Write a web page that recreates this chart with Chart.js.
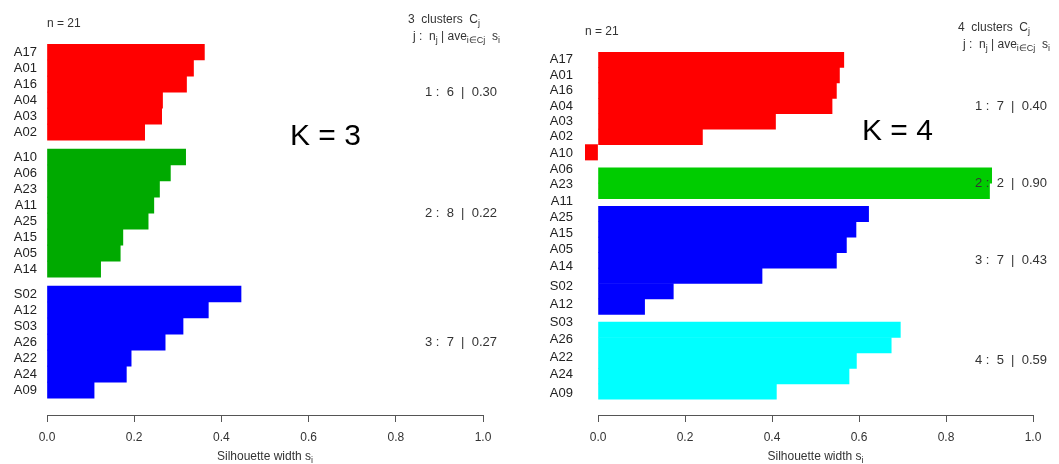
<!DOCTYPE html>
<html>
<head>
<meta charset="utf-8">
<script src="https://cdn.jsdelivr.net/npm/chart.js@4/dist/chart.umd.min.js"></script>
<style>
    html, body { margin: 0; padding: 0; background: #fff; }
    #wrap { position: relative; width: 1059px; height: 464px; }
    .panel { position: absolute; top: 0; height: 464px; }
    #left { left: 0; width: 530px; }
    #right { left: 530px; width: 529px; }
</style>
</head>
<body>
<div id="wrap">
    <div class="panel" id="left"><canvas id="cLeft"></canvas></div>
    <div class="panel" id="right"><canvas id="cRight"></canvas></div>
</div>
<script>
// ---- données ----
const obsNames = ["A17", "A01", "A16", "A04", "A03", "A02", "A10", "A06", "A23", "A11", "A25",
                  "A15", "A05", "A14", "S02", "A12", "S03", "A26", "A22", "A24", "A09"];

// K = 3
const k3Widths = [0.361, 0.336, 0.320, 0.265, 0.263, 0.224,
                  0.318, 0.283, 0.258, 0.245, 0.232, 0.174, 0.168, 0.123,
                  0.445, 0.370, 0.312, 0.271, 0.193, 0.182, 0.108];
const k3Sizes = [6, 8, 7];
const k3Averages = ["0.30", "0.22", "0.27"];
const k3Colors = ["#ff0000", "#00aa00", "#0000ff"];

// K = 4
const k4Widths = [0.565, 0.555, 0.548, 0.538, 0.408, 0.240, -0.030,
                  0.905, 0.900,
                  0.622, 0.593, 0.571, 0.548, 0.377, 0.173, 0.107,
                  0.695, 0.674, 0.594, 0.577, 0.410];
const k4Sizes = [7, 2, 7, 5];
const k4Averages = ["0.40", "0.90", "0.43", "0.59"];
const k4Colors = ["#ff0000", "#00cc00", "#0000ff", "#00ffff"];
// sur le panneau K = 4 les noms ne suivent pas les barres (positions relevées)
const k4NamePos = [0, 1, 2, 3, 4, 5, 6.05, 7.1, 8.1, 9.15, 10.2, 11.25, 12.3, 13.4,
                   14.7, 15.85, 17, 18.15, 19.3, 20.4, 21.6];

const xTicks = [0, 0.2, 0.4, 0.6, 0.8, 1.0];

const FONT = '"Liberation Sans", Arial, sans-serif';
Chart.defaults.font.family = FONT;

// position (en unités de barre) de chaque observation, avec un blanc entre clusters
function barPositions(sizes, gap) {
    const pos = [];
    let p = 0;
    sizes.forEach(function (n, c) {
        if (c > 0) p += gap;
        for (let i = 0; i < n; i++) { pos.push(p); p += 1; }
    });
    return pos;
}

function clusterOf(sizes) {
    const out = [];
    sizes.forEach(function (n, c) { for (let i = 0; i < n; i++) out.push(c); });
    return out;
}

// texte avec indices (parts = [[texte, estIndice], ...])
function drawRich(ctx, x, y, parts, size, align, color) {
    ctx.save();
    ctx.fillStyle = color || "#333";
    ctx.textBaseline = "middle";
    ctx.textAlign = "left";
    const subSize = Math.round(size * 0.75);
    let total = 0;
    const widths = parts.map(function (p) {
        ctx.font = (p[1] ? subSize : size) + "px " + FONT;
        const w = ctx.measureText(p[0]).width;
        total += w;
        return w;
    });
    if (align === "right") x -= total;
    else if (align === "center") x -= total / 2;
    parts.forEach(function (p, i) {
        ctx.font = (p[1] ? subSize : size) + "px " + FONT;
        ctx.fillText(p[0], x, p[1] ? y + size * 0.3 : y);
        x += widths[i];
    });
    ctx.restore();
}

// décor façon plot.silhouette de R
const silhouetteDecor = {
    id: "silhouetteDecor",
    afterDraw: function (chart) {
        const o = chart.options.plugins.silhouetteDecor;
        const ctx = chart.ctx;
        const area = chart.chartArea;
        const xs = chart.scales.x;
        const ys = chart.scales.y;
        const x0 = xs.getPixelForValue(0);
        const x1 = xs.getPixelForValue(1);

        // ligne d'axe de 0 à 1
        ctx.save();
        ctx.strokeStyle = "#555";
        ctx.lineWidth = 1;
        ctx.beginPath();
        ctx.moveTo(x0, Math.round(area.bottom) + 0.5);
        ctx.lineTo(x1, Math.round(area.bottom) + 0.5);
        ctx.stroke();
        ctx.restore();

        // en-têtes
        drawRich(ctx, area.left, area.top - 20, [["n = " + o.n, false]], 12, "left", "#333");
        const hx = area.right - 75;
        drawRich(ctx, hx, area.top - 24,
            [[o.sizes.length + "  clusters  C", false], ["j", true]], 12, "left", "#333");
        drawRich(ctx, hx + 5, area.top - 7,
            [["j :  n", false], ["j", true], [" | ave", false], ["i\u2208Cj", true], ["  s", false], ["i", true]],
            12, "left", "#333");

        // résumé par cluster
        let start = 0;
        o.sizes.forEach(function (n, c) {
            const mid = (o.positions[start] + o.positions[start + n - 1]) / 2;
            drawRich(ctx, area.right + 14, ys.getPixelForValue(mid),
                [[(c + 1) + " :  " + n + "  |  " + o.averages[c], false]], 13, "right", "#333");
            start += n;
        });

        // titre de l'axe
        drawRich(ctx, (x0 + x1) / 2, chart.height - 7,
            [["Silhouette width s", false], ["i", true]], 12, "center", "#333");

        // étiquette K
        ctx.save();
        ctx.fillStyle = "#000";
        ctx.font = "30px " + FONT;
        ctx.textBaseline = "middle";
        ctx.fillText(o.kLabel, o.kX, o.kY);
        ctx.restore();
    }
};

function makePanel(canvasId, cfg) {
    const positions = barPositions(cfg.sizes, cfg.gap);
    const clusters = clusterOf(cfg.sizes);
    const namePos = cfg.namePos || positions;
    const xMin = Math.min(0, Math.min.apply(null, cfg.widths));
    const yMax = positions[positions.length - 1] + 0.5 + cfg.axisGap;

    return new Chart(document.getElementById(canvasId), {
        type: "bar",
        data: {
            datasets: [{
                data: cfg.widths.map(function (w, i) { return { x: w, y: positions[i] }; }),
                backgroundColor: clusters.map(function (c) { return cfg.colors[c]; }),
                borderWidth: 0,
                barPercentage: 1,
                categoryPercentage: 1
            }]
        },
        options: {
            indexAxis: "y",
            responsive: true,
            maintainAspectRatio: false,
            animation: false,
            layout: { padding: { top: cfg.top, right: cfg.right, left: 0, bottom: 0 } },
            plugins: {
                legend: { display: false },
                tooltip: { enabled: false },
                silhouetteDecor: {
                    n: obsNames.length,
                    sizes: cfg.sizes,
                    positions: positions,
                    averages: cfg.averages,
                    kLabel: cfg.kLabel,
                    kX: cfg.kX,
                    kY: cfg.kY
                }
            },
            scales: {
                x: {
                    type: "linear",
                    min: xMin,
                    max: 1,
                    offset: false,
                    afterBuildTicks: function (s) { s.ticks = xTicks.map(function (v) { return { value: v }; }); },
                    afterFit: function (s) { s.height = 49; },
                    grid: { drawOnChartArea: false, drawTicks: true, tickLength: 7, color: "#555", offset: false },
                    border: { display: false },
                    ticks: {
                        color: "#333",
                        font: { size: 12 },
                        padding: 8,
                        maxRotation: 0,
                        autoSkip: false,
                        callback: function (v) { return Number(v).toFixed(1); }
                    }
                },
                y: {
                    type: "linear",
                    reverse: true,
                    offset: false,
                    min: -0.5,
                    max: yMax,
                    afterBuildTicks: function (s) { s.ticks = namePos.map(function (v) { return { value: v }; }); },
                    afterFit: function (s) { s.width = cfg.yWidth; },
                    grid: { display: false, drawTicks: false, offset: false },
                    border: { display: false },
                    ticks: {
                        color: "#222",
                        font: { size: 13 },
                        padding: cfg.yPad,
                        autoSkip: false,
                        callback: function (v, i) { return obsNames[i]; }
                    }
                }
            }
        },
        plugins: [silhouetteDecor]
    });
}

makePanel("cLeft", {
    widths: k3Widths, sizes: k3Sizes, averages: k3Averages, colors: k3Colors,
    gap: 0.55, axisGap: 1.05, top: 44, right: 47, yWidth: 47, yPad: 10,
    kLabel: "K = 3", kX: 290, kY: 137
});

makePanel("cRight", {
    widths: k4Widths, sizes: k4Sizes, averages: k4Averages, colors: k4Colors,
    namePos: k4NamePos,
    gap: 0.5, axisGap: 1.02, top: 52, right: 26, yWidth: 55, yPad: 12,
    kLabel: "K = 4", kX: 332, kY: 132
});
</script>
</body>
</html>
